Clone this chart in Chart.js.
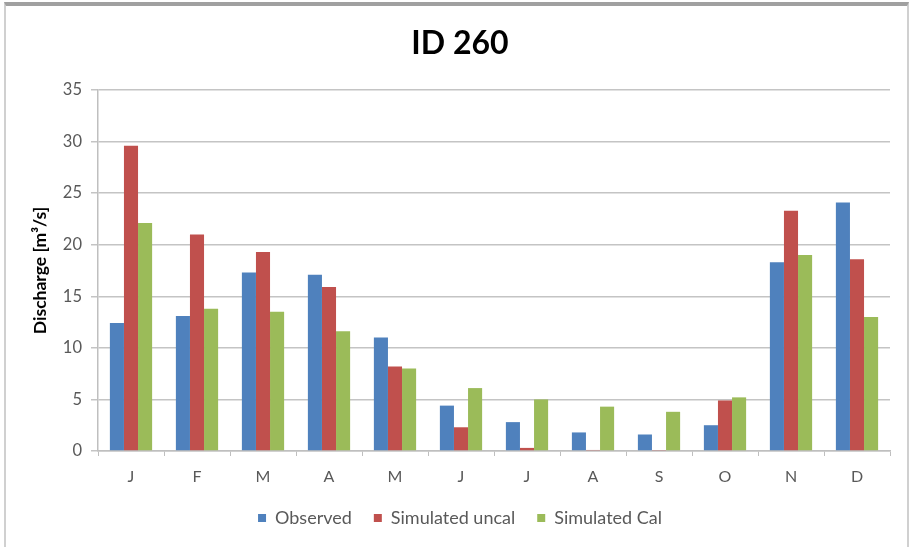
<!DOCTYPE html>
<html>
<head>
<meta charset="utf-8">
<script src="https://cdn.jsdelivr.net/npm/chart.js@4.4.1/dist/chart.umd.min.js"></script>
<style>
  body { margin: 0; background: #fff; }
  #frame {
    position: absolute; left: 4px; top: 2px; width: 901px; height: 541px;
    border: 2px solid #d0d0d0; border-top: 4px solid #a0a0a0;
  }
  #chart { position: absolute; left: 0; top: 0; }
</style>
</head>
<body>
<div id="frame"></div>
<canvas id="chart" width="910" height="547"></canvas>
<script>
const months = ["J", "F", "M", "A", "M", "J", "J", "A", "S", "O", "N", "D"];
const observed = [12.4, 13.1, 17.3, 17.1, 11.0, 4.4, 2.8, 1.8, 1.6, 2.5, 18.3, 24.1];
const simUncal = [29.6, 21.0, 19.3, 15.9, 8.2, 2.3, 0.3, 0.1, 0.05, 4.9, 23.3, 18.6];
const simCal = [22.1, 13.8, 13.5, 11.6, 8.0, 6.1, 5.0, 4.3, 3.8, 5.2, 19.0, 13.0];

const fontFam = "Lato, 'Open Sans', sans-serif";
const textCol = "#595959";

new Chart(document.getElementById("chart"), {
  type: "bar",
  data: {
    labels: months,
    datasets: [
      { label: "Observed", data: observed, backgroundColor: "#4F81BD" },
      { label: "Simulated uncal", data: simUncal, backgroundColor: "#C0504D" },
      { label: "Simulated Cal", data: simCal, backgroundColor: "#9BBB59" }
    ]
  },
  options: {
    responsive: false,
    animation: false,
    datasets: { bar: { barPercentage: 1, categoryPercentage: 0.64 } },
    layout: { padding: { top: 24, right: 20, bottom: 10, left: 30 } },
    plugins: {
      title: {
        display: true,
        text: "ID 260",
        color: "#000",
        font: { family: fontFam, size: 32, weight: "bold" },
        padding: { top: 0, bottom: 27.6 }
      },
      legend: {
        position: "bottom",
        labels: {
          color: textCol,
          font: { family: fontFam, size: 18 },
          boxWidth: 8, boxHeight: 8, padding: 22
        }
      },
      tooltip: { enabled: false }
    },
    scales: {
      x: {
        grid: { offset: true, drawOnChartArea: false, drawTicks: true, tickLength: 5, color: "#bfbfbf" },
        border: { color: "#bfbfbf", width: 1.5 },
        ticks: { color: textCol, font: { family: fontFam, size: 16 }, padding: 11 },
        afterFit: s => { s.height = 36; }
      },
      y: {
        min: 0, max: 35,
        ticks: { stepSize: 5, color: textCol, font: { family: fontFam, size: 16.5 }, padding: 9 },
        grid: { color: "#c4c4c4", lineWidth: 1.5, tickLength: 7 },
        border: { color: "#bfbfbf", width: 1.5 },
        title: {
          display: true,
          text: "Discharge [m³/s]",
          color: "#000",
          font: { family: fontFam, size: 17.5, weight: "bold" },
          padding: { top: 0, bottom: 0 }
        },
        afterFit: s => { s.width = 68; }
      }
    }
  }
});
</script>
</body>
</html>
